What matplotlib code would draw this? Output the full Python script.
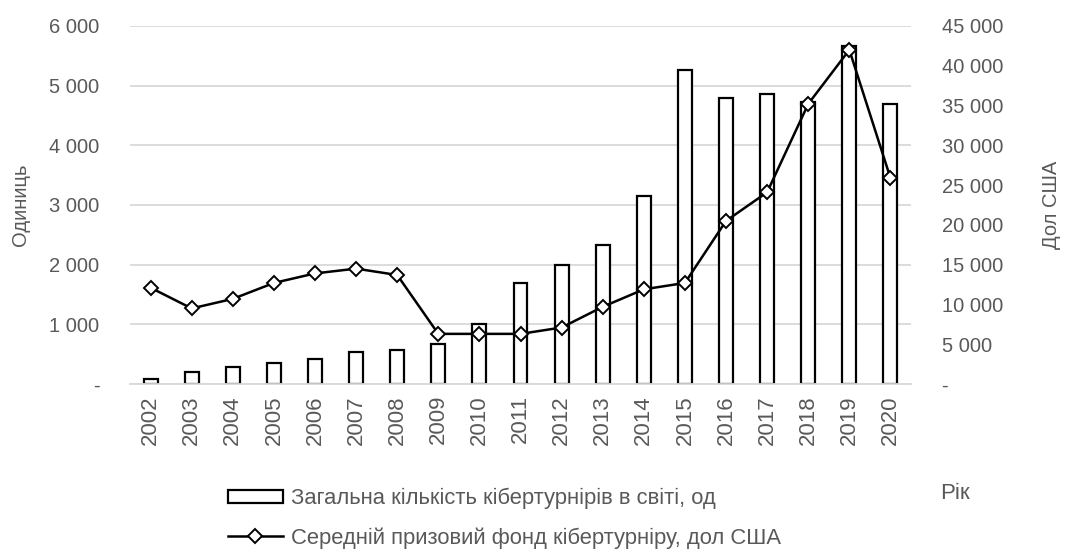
import matplotlib
matplotlib.use("Agg")
import matplotlib.pyplot as plt
from matplotlib import font_manager
from matplotlib.ticker import FuncFormatter
from matplotlib.lines import Line2D
from matplotlib.patches import Patch
import numpy as np

years = [str(y) for y in range(2002, 2021)]
tournaments = [90, 200, 290, 355, 420, 530, 570, 670, 1010, 1690,
               2000, 2330, 3150, 5270, 4800, 4860, 4720, 5660, 4690]
prize_fund = [12100, 9500, 10700, 12700, 13900, 14500, 13700, 6300, 6300, 6300,
              7100, 9700, 11900, 12700, 20500, 24100, 35200, 42000, 25900]

left_label = "Одиниць"
right_label = "Дол США"
x_label = "Рік"
bar_name = "Загальна кількість кібертурнірів в світі, од"
line_name = "Середній призовий фонд кібертурніру, дол США"

names = {f.name for f in font_manager.fontManager.ttflist}
base_font = "Liberation Sans" if "Liberation Sans" in names else "DejaVu Sans"
plt.rcParams["font.family"] = [base_font, "DejaVu Sans"]

GRAY = "#595959"
GRID = "#d9d9d9"


def fmt(v, pos):
    # нуль показуємо рискою, тисячі відділяємо пробілом
    if v == 0:
        return "-"
    return "{:,.0f}".format(v).replace(",", " ")


fig = plt.figure(figsize=(10.72, 5.55), dpi=100)
ax = fig.add_axes([0.1213, 0.3081, 0.7285, 0.6451])
ax2 = ax.twinx()

x = np.arange(len(years))
ax.bar(x, tournaments, width=0.34, color="white", edgecolor="black", linewidth=1.6, zorder=2)
ax2.plot(x, prize_fund, color="black", linewidth=1.8, marker="D", markersize=7,
         markerfacecolor="white", markeredgecolor="black", markeredgewidth=1.4, zorder=3)

ax.set_xlim(-0.5, len(years) - 0.5)
ax.set_ylim(0, 6000)
ax2.set_ylim(0, 45000)
ax.set_yticks(np.arange(0, 6001, 1000))
ax2.set_yticks(np.arange(0, 45001, 5000))
ax.yaxis.set_major_formatter(FuncFormatter(fmt))
ax2.yaxis.set_major_formatter(FuncFormatter(fmt))
ax.set_xticks(x)
ax.set_xticklabels(years, rotation=90)

ax.grid(axis="y", color=GRID, linewidth=1.3, zorder=0)
ax.set_axisbelow(True)
for a in (ax, ax2):
    for s in a.spines.values():
        s.set_visible(False)
ax.spines["bottom"].set_visible(True)
ax.spines["bottom"].set_color(GRID)
ax.spines["bottom"].set_linewidth(1.3)

ax.tick_params(axis="y", length=0, pad=22, labelsize=14.5, labelcolor=GRAY)
ax2.tick_params(axis="y", length=0, pad=22, labelsize=14.5, labelcolor=GRAY)
ax.tick_params(axis="x", length=0, pad=8, labelsize=16, labelcolor=GRAY)

ax.set_ylabel(left_label, fontsize=14.5, color=GRAY, labelpad=14)
ax2.set_ylabel(right_label, fontsize=14.5, color=GRAY, labelpad=28)

fig.text(0.877, 0.111, x_label, fontsize=16, color=GRAY, ha="left", va="center")

handles = [Patch(facecolor="white", edgecolor="black", linewidth=1.6),
           Line2D([], [], color="black", linewidth=1.8, marker="D", markersize=7,
                  markerfacecolor="white", markeredgecolor="black", markeredgewidth=1.4)]
fig.legend(handles, [bar_name, line_name], loc="center left", bbox_to_anchor=(0.2127, 0.066),
           frameon=False, handlelength=2.5, handleheight=0.55, handletextpad=0.36,
           labelspacing=0.8, prop={"size": 15.8}, labelcolor=GRAY,
           borderaxespad=0, borderpad=0)

fig.savefig("out.png", dpi=100)
